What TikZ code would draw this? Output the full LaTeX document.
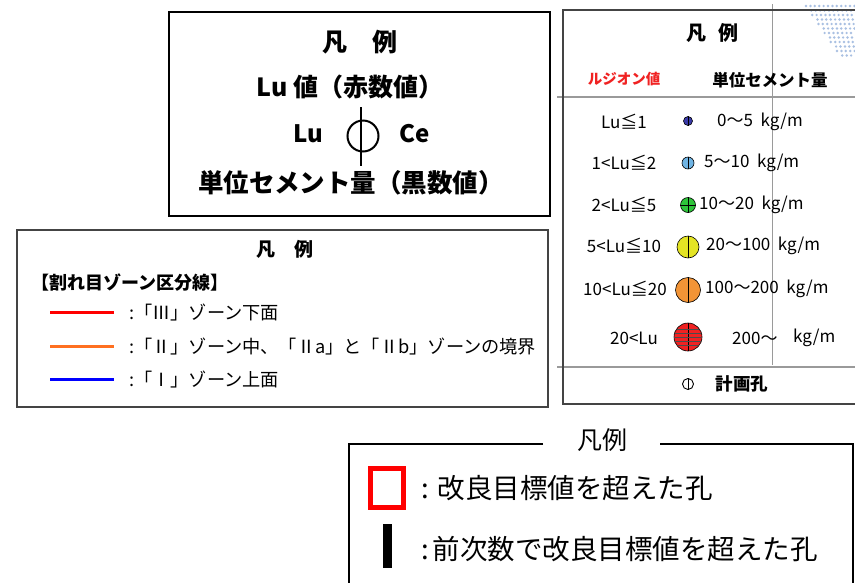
\documentclass[tikz,border=0pt]{standalone}
\usepackage{fontspec}
\newfontfamily\jp{Noto Sans CJK JP}
\newcommand\fsz[1]{\fontsize{#1}{#1}\selectfont}
\definecolor{cnavy}{HTML}{3A3AA8}
\definecolor{clblue}{HTML}{6FB4E4}
\definecolor{cgreen}{HTML}{2EC43A}
\definecolor{cyellow}{HTML}{E4E424}
\definecolor{corange}{HTML}{F29436}
\definecolor{cred}{HTML}{F02222}
\definecolor{dotblue}{HTML}{A9C0E2}
\definecolor{frame}{HTML}{444444}
\definecolor{lgray}{HTML}{9A9A9A}
\definecolor{zred}{HTML}{FF0000}
\definecolor{zorange}{HTML}{FF7020}
\definecolor{zblue}{HTML}{0000FF}
\begin{document}
\begin{tikzpicture}[x=1pt,y=-1pt,
  txt/.style={inner sep=0pt, font=\jp},
  boxframe/.style={draw=frame, line width=1.3pt},
  zoneline/.style={line width=3pt},
  ball/.style={circle, draw=black, line width=0.6pt, inner sep=0pt},
  rtxt/.style={txt, font=\jp\fsz{17}},
]
\useasboundingbox (0,0) rectangle (855,582);
\fill[white] (0,0) rectangle (855,582);

% ---------- Box 1 ----------
\draw[draw=black, line width=1.2pt] (169,12) rectangle (550,216);
\node[txt, font=\jp\bfseries\fsz{25}] (b1title) at (360,42) {凡　例};
\node[txt, font=\jp\bfseries\fsz{25}] (b1lu) at (350,87) {Lu 値（赤数値）};
\node[txt, font=\jp\bfseries\fsz{24}] (b1l) at (308,134) {Lu};
\node[txt, font=\jp\bfseries\fsz{24}] (b1c) at (415,134) {Ce};
\node[circle, draw=black, line width=2pt, minimum size=31pt, inner sep=0pt] (b1sym) at (363,136) {};
\coordinate (b1top) at (361,107);
\coordinate (b1bot) at (361,166);
\draw[line width=2.2pt] (b1top) -- (b1bot);
\node[txt, font=\jp\bfseries\fsz{25.5}] (b1ce) at (351,183) {単位セメント量（黒数値）};

% ---------- Box 2 ----------
\draw[boxframe] (17,230) rectangle (548,407);
\node[txt, font=\jp\bfseries\fsz{19}] (b2title) at (285,249) {凡　例};
\node[txt, anchor=west, font=\jp\bfseries\fsz{18}] (b2head) at (31,283) {【割れ目ゾーン区分線】};
\coordinate (r1) at (50,312); \coordinate (r2) at (114,312);
\coordinate (o1) at (50,346); \coordinate (o2) at (114,346);
\coordinate (u1) at (50,379); \coordinate (u2) at (114,379);
\draw[zoneline, zred] (r1) -- (r2);
\draw[zoneline, zorange] (o1) -- (o2);
\draw[zoneline, zblue] (u1) -- (u2);
\node[txt, anchor=west, font=\jp\fsz{18.2}] (b2t1) at (129,313) {:「Ⅲ」ゾーン下面};
\node[txt, anchor=west, font=\jp\fsz{18.2}] (b2t2) at (129,347) {:「Ⅱ」ゾーン中、「Ⅱa」と「Ⅱb」ゾーンの境界};
\node[txt, anchor=west, font=\jp\fsz{18.2}] (b2t3) at (129,380) {:「Ⅰ」ゾーン上面};

% ---------- Box 3 (right panel) ----------
\foreach \j in {0,...,11}{
  \foreach \i in {0,...,12}{
    \pgfmathsetmacro\xx{806+\j*3.1+\i*4.4+mod(\j,2)*2.2}
    \ifdim\xx pt<855pt \fill[dotblue] (\xx,{6+\j*4.5}) circle (1.35); \fi
  }
}
\draw[lgray, line width=0.9pt] (772,4) -- (772,365);
\draw[lgray, line width=1.2pt] (557,97) -- (855,97);
\draw[lgray, line width=1.2pt] (557,367) -- (855,367);
\draw[frame, line width=1.3pt] (855,10) -- (563,10) -- (563,404) -- (855,404);

\node[txt, font=\jp\bfseries\fsz{20}] (b3title) at (712,33) {凡\hspace{12pt}例};
\node[txt, text=cred, font=\jp\bfseries\fsz{14.5}] (b3lu) at (624,79) {ルジオン値};
\node[txt, font=\jp\bfseries\fsz{16.5}] (b3ce) at (770,80) {単位セメント量};

\node[rtxt] (l1) at (624,122) {Lu≦1};
\node[rtxt] (l2) at (624,163) {1<Lu≦2};
\node[rtxt] (l3) at (624,205) {2<Lu≦5};
\node[rtxt] (l4) at (624,246) {5<Lu≦10};
\node[rtxt] (l5) at (625,289) {10<Lu≦20};
\node[rtxt] (l6) at (634,338) {20<Lu};

\foreach \yy/\rr/\cc in {121/4.5/cnavy,163/6/clblue,205/7.5/cgreen,247/11/cyellow,290/12.5/corange,337/14/cred}{
  \node[ball, fill=\cc, minimum size={2*\rr}] (ball\yy) at (688,\yy) {};
  \draw[line width=0.8pt] (ball\yy.north) -- (ball\yy.south);
}
\draw[line width=0.6pt] (ball205.west) -- (ball205.east);
\begin{scope}
  \clip (688,337) circle (13.6);
  \foreach \d in {-8,-4,0,4,8}{
    \draw[line width=0.4pt, black!70] (672,337+\d) -- (704,337+\d);
  }
\end{scope}

\node[rtxt, anchor=west] (c1) at (717,122) {0～5\ \ kg/m};
\node[rtxt, anchor=west] (c2) at (704,163) {5～10\ \ kg/m};
\node[rtxt, anchor=west] (c3) at (699,205) {10～20\ \ kg/m};
\node[rtxt, anchor=west] (c4) at (706,246) {20～100\ \ kg/m};
\node[rtxt, anchor=west] (c5) at (705,289) {100～200\ \ kg/m};
\node[rtxt, anchor=west] (c6a) at (732,338) {200～};
\node[rtxt, anchor=west] (c6b) at (793,338) {kg/m};

\node[circle, draw=black, line width=0.9pt, minimum size=11pt, inner sep=0pt] (plan) at (688,384) {};
\draw[line width=0.9pt] (plan.north) -- (plan.south);
\node[txt, font=\jp\bfseries\fsz{17.5}] (plantxt) at (742,384) {計画孔};

% ---------- Box 4 ----------
\coordinate (g1) at (543,444);
\coordinate (g2) at (660,444);
\draw[line width=2.6pt] (g1) -- (349,444) -- (349,590);
\draw[line width=2.6pt] (g2) -- (853,444) -- (853,590);
\node[txt, font=\jp\fsz{25}] (b4title) at (602,440) {凡例};
\node[draw=zred, line width=4.5pt, minimum width=33pt, minimum height=39pt, inner sep=0pt] (redsq) at (387,488) {};
\node[txt, anchor=west, font=\jp\fsz{27.5}] (b4t1) at (421,488) {:\hspace{9pt}改良目標値を超えた孔};
\fill[black] (383,524) rectangle (392,568);
\node[txt, anchor=west, font=\jp\fsz{27.5}] (b4t2) at (421,549) {:\hspace{4pt}前次数で改良目標値を超えた孔};
\end{tikzpicture}
\end{document}
